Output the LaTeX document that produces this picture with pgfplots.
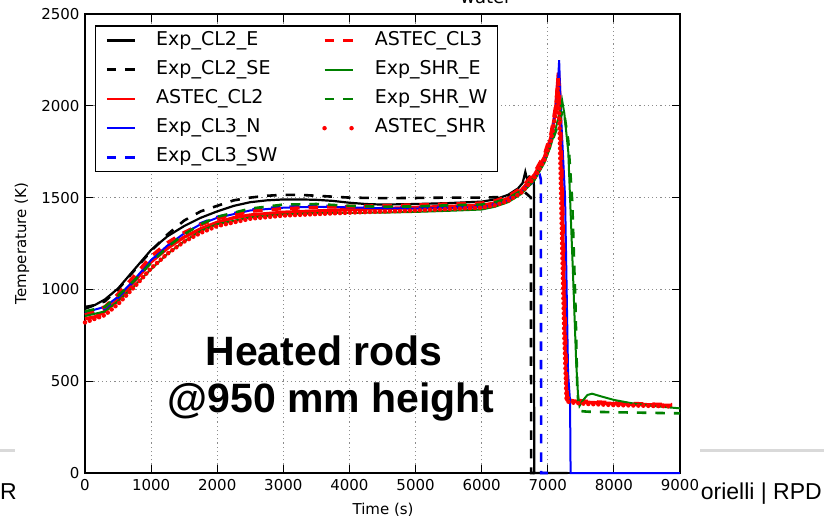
\documentclass[border=0pt]{standalone}
\usepackage{fontspec}
\setmainfont{DejaVu Sans}
\newfontfamily\arial{Liberation Sans}
\usepackage{pgfplots}
\pgfplotsset{compat=1.18}
\usetikzlibrary{calc}
\definecolor{mplgreen}{rgb}{0,0.5,0}

\begin{document}
\begin{tikzpicture}[x=1pt,y=1pt]
\begin{axis}[
  name=ax,
  scale only axis, width=595pt, height=459pt,
  xmin=0, xmax=9000, ymin=0, ymax=2500,
  xtick={0,1000,...,9000}, ytick={0,500,...,2500},
  tick align=inside, major tick length=8pt,
  tick style={black, line width=0.8pt},
  grid=major,
  grid style={black!45, line width=0.9pt, dash pattern=on 1.2pt off 3pt},
  axis line style={black, line width=1.3pt},
  tick label style={font=\fontsize{15}{18}\selectfont},
  xticklabel style={yshift=-3pt},
  yticklabel style={xshift=-2pt},
  /pgf/number format/assume math mode=true,
  /pgf/number format/set thousands separator={},
  scaled ticks=false,
  xlabel={Time (s)}, ylabel={Temperature (K)},
  label style={font=\fontsize{15}{18}\selectfont},
  xlabel style={at={(axis description cs:0.501,-0.081)}, anchor=center},
  ylabel style={at={(axis description cs:-0.106,0.5)}, anchor=center},
  clip=false,
  legend columns=2,
  legend cell align=left,
  legend image code/.code={\draw[#1] (0pt,0pt) -- (28pt,0pt);},
  legend style={at={(rel axis cs:0.0168,0.975)}, anchor=north west,
    draw=black, line width=1.2pt, fill=white,
    font=\fontsize{19}{22}\selectfont,
    inner xsep=10pt, inner ysep=5pt, row sep=10.2pt,
    nodes={inner sep=0pt, text height=14pt, text depth=5pt},
    /tikz/every odd column/.append style={column sep=20pt},
    /tikz/every even column/.append style={column sep=45pt}},
]
% Exp_CL2_E
\addplot[forget plot, black, line width=2.2pt] coordinates {
(0,905) (150,915) (300,945) (500,1005) (750,1110) (1000,1215) (1250,1290)
(1500,1345) (1750,1390) (2000,1425) (2250,1455) (2500,1475) (2750,1485)
(3000,1490) (3250,1490) (3500,1488) (3750,1482) (4000,1472) (4250,1465)
(4500,1462) (5000,1465) (5500,1470) (6000,1478) (6200,1490) (6400,1515)
(6550,1550) (6620,1580) (6660,1640) (6690,1595) (6720,1615) (6790,1600)
(6795,0) (7300,0)};
% Exp_CL2_SE
\addplot[forget plot, black, line width=2.6pt, dash pattern=on 9.5pt off 9pt] coordinates {
(0,895) (300,935) (500,1000) (750,1105) (1000,1210) (1250,1300) (1500,1375)
(1750,1425) (2000,1455) (2250,1485) (2500,1500) (2750,1510) (3000,1515)
(3250,1515) (3500,1510) (4000,1500) (4500,1497) (5000,1498) (5500,1500)
(6000,1500) (6300,1503) (6500,1510) (6650,1530) (6745,1500) (6748,0) (6800,0)};
% ASTEC_CL2
\addplot[forget plot, red, line width=3.4pt] coordinates {
(0,840) (150,850) (300,880) (500,945) (750,1045) (1000,1150) (1250,1225)
(1500,1285) (1750,1330) (2000,1365) (2250,1390) (2500,1405) (3000,1420)
(3500,1427) (4000,1435) (4500,1440) (5000,1446) (5500,1452) (6000,1458)
(6200,1470) (6400,1495) (6600,1540) (6800,1625) (6950,1720) (7050,1830)
(7120,1980) (7160,2180) (7175,2120) (7200,1800) (7230,1250) (7260,780)
(7290,400) (7400,392) (7600,385) (8000,378) (8500,372) (8880,368)};
% Exp_CL3_N
\addplot[forget plot, blue, line width=2pt] coordinates {
(0,875) (300,905) (500,960) (750,1055) (1000,1160) (1250,1240) (1500,1305)
(1750,1355) (2000,1390) (2500,1430) (3000,1445) (3500,1450) (4000,1447)
(4500,1442) (5000,1440) (5500,1442) (6000,1447) (6200,1460) (6400,1484)
(6600,1528) (6800,1605) (6950,1700) (7050,1815) (7120,1980) (7150,2100)
(7172,2248) (7200,1950) (7262,1500) (7307,545) (7337,390) (7345,0) (9000,0)};
% Exp_CL3_SW
\addplot[forget plot, blue, line width=2.6pt, dash pattern=on 9.5pt off 9pt] coordinates {
(0,865) (300,895) (500,955) (750,1050) (1000,1155) (1250,1240) (1500,1308)
(1750,1360) (2000,1395) (2500,1435) (3000,1450) (3500,1455) (4000,1452)
(4500,1448) (5000,1448) (5500,1450) (6000,1452) (6200,1466) (6400,1490)
(6600,1535) (6800,1590) (6880,1620) (6895,1600) (6900,0) (7000,0)};
% ASTEC_CL3
\addplot[forget plot, red, line width=3.4pt, dash pattern=on 9.5pt off 9pt] coordinates {
(0,860) (300,905) (500,975) (750,1075) (1000,1180) (1250,1255) (1500,1310)
(1750,1352) (2000,1385) (2500,1425) (3000,1440) (3500,1447) (4000,1452)
(5000,1460) (6000,1470) (6200,1482) (6400,1507) (6600,1552) (6800,1637)
(6950,1735) (7050,1850) (7120,2000) (7160,2150) (7180,2050) (7210,1700)
(7240,1200) (7270,700) (7295,410) (7400,398) (7600,390) (8000,382)
(8500,376) (8880,372)};
% Exp_SHR_E
\addplot[forget plot, mplgreen, line width=2pt] coordinates {
(0,855) (300,880) (500,935) (750,1020) (1000,1110) (1250,1195) (1500,1262)
(1750,1318) (2000,1355) (2500,1392) (3000,1408) (3500,1415) (4000,1417)
(4500,1418) (5000,1422) (5500,1428) (6000,1435) (6200,1450) (6400,1475)
(6600,1520) (6800,1595) (6950,1690) (7050,1790) (7130,1890) (7190,1980)
(7217,2030) (7250,1960) (7310,1750) (7380,1100) (7430,600) (7460,410)
(7480,365) (7530,395) (7600,425) (7670,432) (7800,418) (8000,398)
(8300,378) (8600,365) (9000,352)};
% Exp_SHR_W
\addplot[forget plot, mplgreen, line width=2.6pt, dash pattern=on 9.5pt off 9pt] coordinates {
(0,880) (300,905) (500,965) (750,1050) (1000,1145) (1250,1232) (1500,1300)
(1750,1355) (2000,1395) (2500,1440) (3000,1462) (3500,1465) (4000,1455)
(4500,1450) (5000,1452) (5500,1458) (6000,1462) (6200,1474) (6400,1496)
(6600,1537) (6800,1610) (6950,1700) (7050,1790) (7150,1890) (7230,1975)
(7260,1930) (7310,1810) (7370,1480) (7420,900) (7445,480) (7470,338)
(7600,334) (8000,331) (8500,328) (9000,325)};
% ASTEC_SHR
\addplot[forget plot, red, line width=4.5pt, line cap=round, dash pattern=on 0pt off 5pt] coordinates {
(0,820) (300,860) (500,920) (750,1015) (1000,1115) (1250,1195) (1500,1260)
(1750,1308) (2000,1345) (2500,1385) (3000,1402) (3500,1410) (4000,1418)
(5000,1430) (6000,1445) (6200,1458) (6400,1482) (6600,1527) (6800,1610)
(6950,1705) (7050,1815) (7120,1960) (7150,2100) (7170,2000) (7190,1700)
(7220,1200) (7250,750) (7285,390) (7400,382) (7600,376) (8000,370)
(8500,366) (8880,363)};

% legend, filled row by row to match the column-wise original
\addlegendimage{black, line width=2.2pt}
\addlegendentry{Exp\_CL2\_E}
\addlegendimage{red, line width=2.6pt, dash pattern=on 9.5pt off 9pt}
\addlegendentry{ASTEC\_CL3}
\addlegendimage{black, line width=2.6pt, dash pattern=on 9.5pt off 9pt}
\addlegendentry{Exp\_CL2\_SE}
\addlegendimage{mplgreen, line width=2.2pt}
\addlegendentry{Exp\_SHR\_E}
\addlegendimage{red, line width=2.2pt}
\addlegendentry{ASTEC\_CL2}
\addlegendimage{mplgreen, line width=2.6pt, dash pattern=on 9.5pt off 9pt}
\addlegendentry{Exp\_SHR\_W}
\addlegendimage{blue, line width=2.2pt}
\addlegendentry{Exp\_CL3\_N}
\addlegendimage{red, line width=4.5pt, line cap=round, dash pattern=on 0pt off 27pt}
\addlegendentry{ASTEC\_SHR}
\addlegendimage{blue, line width=2.6pt, dash pattern=on 9.5pt off 9pt}
\addlegendentry{Exp\_CL3\_SW}

\node[anchor=base, inner sep=0, font=\arial\bfseries\fontsize{41}{46}\selectfont]
  at (axis cs:3615,583) {Heated rods};
\node[anchor=base, inner sep=0, font=\arial\bfseries\fontsize{41}{46}\selectfont]
  at (axis cs:3721,332) {@950 mm height};
\end{axis}
% page frame: the axis box starts 85 px from the left and 47 px from the bottom
\coordinate (O) at ($(ax.south west)+(-85,-47)$);
\pgfresetboundingbox
\begin{scope}[shift={(O)}]
\useasboundingbox (0,0) rectangle (824,520);
\draw[line width=3pt, black!15] (0,70) -- (15,70);
\draw[line width=3pt, black!15] (700,70) -- (824,70);
\node[anchor=base west, inner sep=0, font=\arial\fontsize{23}{26}\selectfont] at (0,21) {R};
\node[anchor=base east, inner sep=0, font=\arial\fontsize{23}{26}\selectfont] at (822,21) {orielli | RPD};
\node[anchor=base, inner sep=0, font=\fontsize{18}{20}\selectfont] at (486,516) {water};
\end{scope}
\end{tikzpicture}
\end{document}
